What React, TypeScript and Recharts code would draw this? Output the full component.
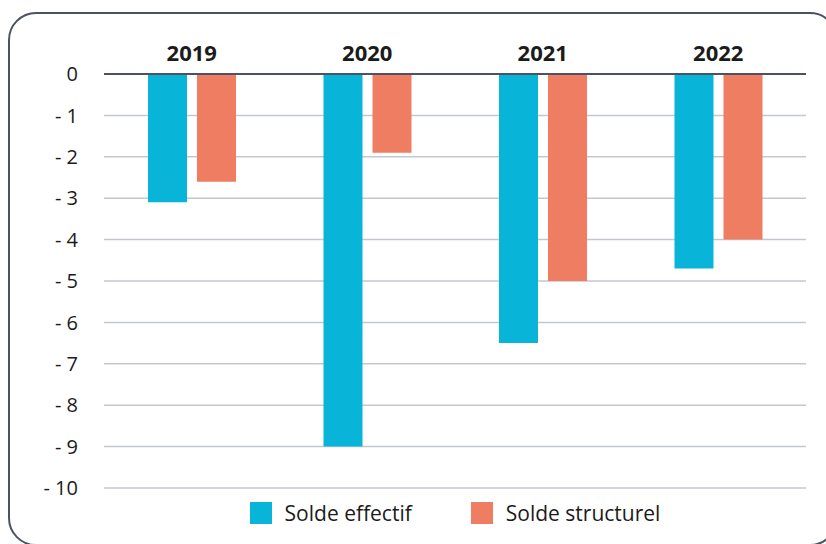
import {
  Bar,
  BarChart,
  CartesianGrid,
  Legend,
  XAxis,
  YAxis,
} from "recharts";

const years = ["2019", "2020", "2021", "2022"];
const soldeEffectif = [-3.1, -9.0, -6.5, -4.7];
const soldeStructurel = [-2.6, -1.9, -5.0, -4.0];
const yTicks = [0, -1, -2, -3, -4, -5, -6, -7, -8, -9, -10];

const CYAN = "#08b5d9";
const SALMON = "#ef7d62";
const FONT = "'Open Sans', 'Noto Sans', sans-serif";

const data = years.map((year, i) => ({
  year,
  effectif: soldeEffectif[i],
  structurel: soldeStructurel[i],
}));

function LegendRow({ payload }: any) {
  return (
    <div
      style={{
        display: "flex",
        justifyContent: "center",
        alignItems: "center",
        gap: 59,
        fontFamily: FONT,
        fontSize: 21,
        color: "#1b1b1b",
      }}
    >
      {(payload || []).map((p: any) => (
        <div key={p.value} style={{ display: "flex", alignItems: "center", gap: 13 }}>
          <span style={{ width: 22, height: 22, background: p.color, display: "inline-block" }} />
          <span>{p.value}</span>
        </div>
      ))}
    </div>
  );
}

export default function App() {
  return (
    <div style={{ position: "absolute", left: 0, top: 0, width: 826, height: 544, overflow: "hidden", background: "#fff" }}>
      <div
        style={{
          position: "absolute",
          left: 8,
          top: 12,
          width: 826,
          height: 530,
          border: "2px solid #4c5262",
          borderRadius: 28,
        }}
      />
      <BarChart
        width={826}
        height={544}
        data={data}
        margin={{ top: 0, right: 20, bottom: 56, left: 0 }}
        barSize={39}
        barGap={10}
        style={{ position: "absolute", left: 0, top: 0 }}
      >
        <CartesianGrid vertical={false} stroke="#c3c7cf" strokeWidth={1.5} />
        <XAxis
          dataKey="year"
          orientation="top"
          height={74}
          tickLine={false}
          axisLine={{ stroke: "#4c5262", strokeWidth: 2 }}
          tickMargin={7}
          tick={{ fill: "#1b1b1b", fontSize: 22, fontWeight: 700, fontFamily: FONT }}
        />
        <YAxis
          domain={[-10, 0]}
          ticks={yTicks}
          width={104}
          axisLine={false}
          tickLine={false}
          tickMargin={20}
          interval={0}
          tickFormatter={(v: number) => (v === 0 ? "0" : `- ${Math.abs(v)}`)}
          tick={{ fill: "#1b1b1b", fontSize: 20, fontFamily: FONT }}
        />
        <Legend
          layout="vertical"
          align="center"
          verticalAlign="middle"
          wrapperStyle={{ top: 499, left: 104, width: 702, height: 28 }}
          content={<LegendRow />}
        />
        <Bar dataKey="effectif" name="Solde effectif" fill={CYAN} isAnimationActive={false} />
        <Bar dataKey="structurel" name="Solde structurel" fill={SALMON} isAnimationActive={false} />
      </BarChart>
    </div>
  );
}
